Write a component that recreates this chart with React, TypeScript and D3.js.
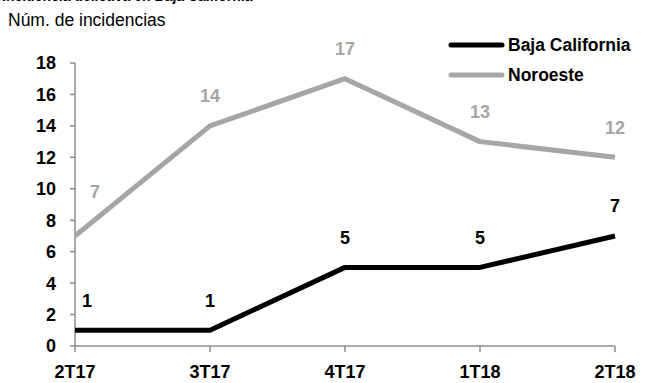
import React from "react";
import * as d3 from "d3";

const categories = ["2T17", "3T17", "4T17", "1T18", "2T18"];
const bajaCalifornia = [1, 1, 5, 5, 7];
const noroeste = [7, 14, 17, 13, 12];
const yTicks = [0, 2, 4, 6, 8, 10, 12, 14, 16, 18];
const seriesNames = ["Baja California", "Noroeste"];
const title = "Incidencia delictiva en Baja California";
const subtitle = "Núm. de incidencias";

const W = 649;
const H = 383;
const FONT = "'Liberation Sans', Arial, Helvetica, sans-serif";
const GREY = "#a6a6a6";
const AXIS = "#8c8c8c";

export default function App() {
  const x = d3.scalePoint<string>().domain(categories).range([75, 615]);
  const y = d3.scaleLinear().domain([0, 18]).range([346, 63]);

  const line = d3
    .line<number>()
    .x((_, i) => x(categories[i]) as number)
    .y((d) => y(d));

  const series = [
    { name: seriesNames[0], values: bajaCalifornia, color: "#000000", labelColor: "#000000", firstDx: 12, firstDy: 0 },
    { name: seriesNames[1], values: noroeste, color: GREY, labelColor: GREY, firstDx: 20, firstDy: -14 },
  ];

  return (
    <svg
      width={W}
      height={H}
      style={{ position: "absolute", left: 0, top: 0, background: "#fff" }}
      fontFamily={FONT}
    >
      <text x={2} y={1} fontSize={14} fontWeight="bold" fill="#000">
        {title}
      </text>
      <text x={8} y={26} fontSize={17.5} fill="#000">
        {subtitle}
      </text>

      {/* Y axis */}
      <line x1={75} x2={75} y1={y(18)} y2={y(0)} stroke={AXIS} strokeWidth={1.5} />
      {yTicks.map((t) => (
        <g key={t}>
          <line x1={70} x2={75} y1={y(t)} y2={y(t)} stroke={AXIS} strokeWidth={1.5} />
          <text
            x={56}
            y={y(t)}
            dy="0.36em"
            textAnchor="end"
            fontSize={18}
            fontWeight="bold"
            fill="#000"
          >
            {t}
          </text>
        </g>
      ))}

      {/* X axis */}
      <line x1={75} x2={615} y1={y(0)} y2={y(0)} stroke={AXIS} strokeWidth={1.5} />
      {categories.map((c) => (
        <g key={c}>
          <line x1={x(c)} x2={x(c)} y1={y(0)} y2={y(0) + 6} stroke={AXIS} strokeWidth={1.5} />
          <text x={x(c)} y={378} textAnchor="middle" fontSize={18} fontWeight="bold" fill="#000">
            {c}
          </text>
        </g>
      ))}

      {/* Lines */}
      {series
        .slice()
        .reverse()
        .map((s) => (
          <path
            key={s.name}
            d={line(s.values) as string}
            fill="none"
            stroke={s.color}
            strokeWidth={5}
            strokeLinejoin="round"
          />
        ))}

      {/* Data labels */}
      {series.map((s) =>
        s.values.map((v, i) => (
          <text
            key={s.name + i}
            x={(x(categories[i]) as number) + (i === 0 ? s.firstDx : 0)}
            y={y(v) - 30 + (i === 0 ? s.firstDy : 0)}
            dy="0.36em"
            textAnchor="middle"
            fontSize={18}
            fontWeight="bold"
            fill={s.labelColor}
          >
            {v}
          </text>
        ))
      )}

      {/* Legend */}
      {series.map((s, i) => (
        <g key={s.name} transform={`translate(0, ${45 + i * 30})`}>
          <line x1={451} x2={502} y1={0} y2={0} stroke={s.color} strokeWidth={5} strokeLinecap="round" />
          <text x={508} y={0} dy="0.36em" fontSize={17.5} fontWeight="bold" fill="#000">
            {s.name}
          </text>
        </g>
      ))}
    </svg>
  );
}
